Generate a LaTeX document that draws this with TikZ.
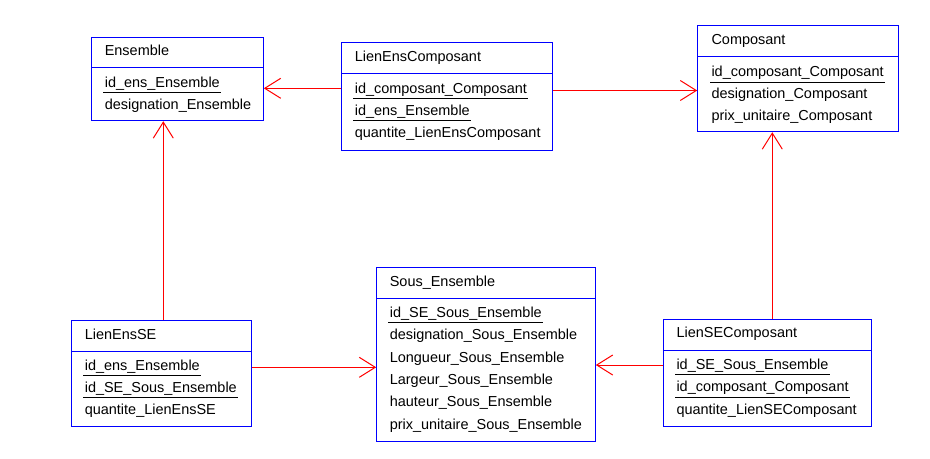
\documentclass[tikz,border=0pt]{standalone}
\usepackage{fontspec}
\setmainfont{Liberation Sans}
\usetikzlibrary{arrows.meta,fit}
\begin{document}
\begin{tikzpicture}[x=0.75pt, y=-0.75pt, line width=0.75pt]
    \tikzset{>={Straight Barb[length=12pt,width=15pt]}}
    \tikzset{
        table/.style={draw=blue, inner sep=0pt},
        attr/.style={anchor=base west, inner xsep=0.75pt, inner ysep=0pt, text depth=0pt, font=\fontsize{10.85}{13}\selectfont},
        pk/.style={attr, inner ysep=3.75pt, append after command={(\tikzlastnode.south west) edge[black] (\tikzlastnode.south east)}},
        assoc/.style={red, ->}
    }
    \useasboundingbox (0,0) rectangle (930,458);
    % tables
    \node[table, fit={(91.7,37) (263.3,120.7)}] (ens) {};
    \draw[blue] (ens.west |- 0,67) -- (ens.east |- 0,67);
    \node[attr] (ens-t) at (103.3,55.5) {Ensemble};
    \node[pk] (ens-1) at (103.3,87) {id\_ens\_Ensemble};
    \node[attr] (ens-2) at (103.3,109) {designation\_Ensemble};

    \node[table, fit={(341.7,42) (552.3,150.7)}] (lec) {};
    \draw[blue] (lec.west |- 0,73) -- (lec.east |- 0,73);
    \node[attr] (lec-t) at (353.3,61) {LienEnsComposant};
    \node[pk] (lec-1) at (353.3,93.3) {id\_composant\_Composant};
    \node[pk] (lec-2) at (353.3,115.3) {id\_ens\_Ensemble};
    \node[attr] (lec-3) at (353.3,137) {quantite\_LienEnsComposant};

    \node[table, fit={(697.7,25.7) (898.3,131.7)}] (comp) {};
    \draw[blue] (comp.west |- 0,56) -- (comp.east |- 0,56);
    \node[attr] (comp-t) at (710,44.3) {Composant};
    \node[pk] (comp-1) at (710,76.7) {id\_composant\_Composant};
    \node[attr] (comp-2) at (710,98.5) {designation\_Composant};
    \node[attr] (comp-3) at (710,120.3) {prix\_unitaire\_Composant};

    \node[table, fit={(71.7,320.7) (251,426.7)}] (lese) {};
    \draw[blue] (lese.west |- 0,351.7) -- (lese.east |- 0,351.7);
    \node[attr] (lese-t) at (83.3,339.3) {LienEnsSE};
    \node[pk] (lese-1) at (83.3,370) {id\_ens\_Ensemble};
    \node[pk] (lese-2) at (83.3,392) {id\_SE\_Sous\_Ensemble};
    \node[attr] (lese-3) at (83.3,414) {quantite\_LienEnsSE};

    \node[table, fit={(376.7,267.3) (595.3,441.7)}] (se) {};
    \draw[blue] (se.west |- 0,298.3) -- (se.east |- 0,298.3);
    \node[attr] (se-t) at (388.3,286.5) {Sous\_Ensemble};
    \node[pk] (se-1) at (388.3,317.3) {id\_SE\_Sous\_Ensemble};
    \node[attr] (se-2) at (388.3,339.7) {designation\_Sous\_Ensemble};
    \node[attr] (se-3) at (388.3,362) {Longueur\_Sous\_Ensemble};
    \node[attr] (se-4) at (388.3,384.3) {Largeur\_Sous\_Ensemble};
    \node[attr] (se-5) at (388.3,406.7) {hauteur\_Sous\_Ensemble};
    \node[attr] (se-6) at (388.3,429) {prix\_unitaire\_Sous\_Ensemble};

    \node[table, fit={(663.3,319) (871.7,426)}] (lsec) {};
    \draw[blue] (lsec.west |- 0,350) -- (lsec.east |- 0,350);
    \node[attr] (lsec-t) at (675,337.3) {LienSEComposant};
    \node[pk] (lsec-1) at (675,369.3) {id\_SE\_Sous\_Ensemble};
    \node[pk] (lsec-2) at (675,391.7) {id\_composant\_Composant};
    \node[attr] (lsec-3) at (675,414) {quantite\_LienSEComposant};

    % links
    \draw[assoc] (lec.west |- 0,88.3) -- (ens.east |- 0,88.3);
    \draw[assoc] (lec.east |- 0,90.5) -- (comp.west |- 0,90.5);
    \draw[assoc] (lese.north -| 163.3,0) -- (ens.south -| 163.3,0);
    \draw[assoc] (lsec.north -| 772.3,0) -- (comp.south -| 772.3,0);
    \draw[assoc] (lese.east |- 0,367.3) -- (se.west |- 0,367.3);
    \draw[assoc] (lsec.west |- 0,365) -- (se.east |- 0,365);
\end{tikzpicture}
\end{document}
